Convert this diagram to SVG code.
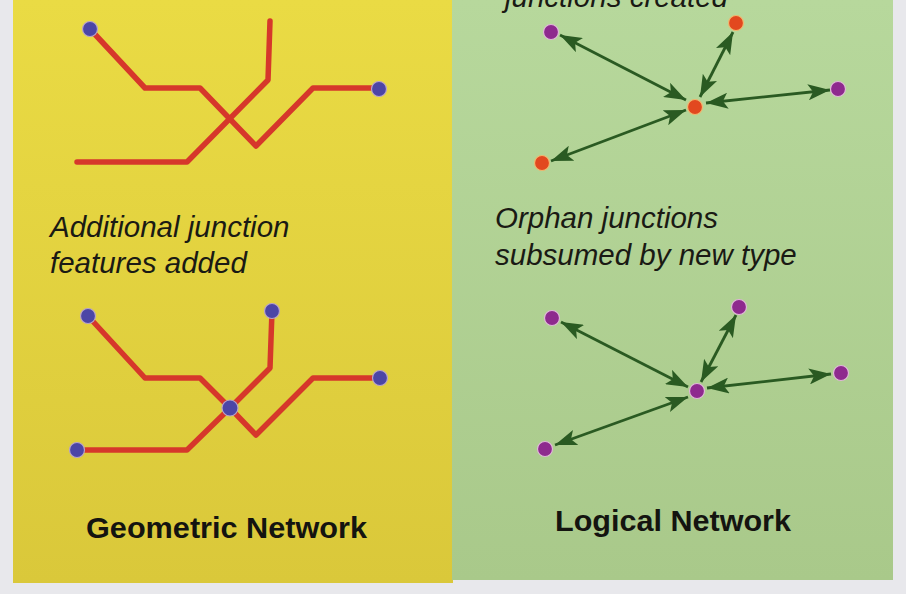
<svg xmlns="http://www.w3.org/2000/svg" width="906" height="594" viewBox="0 0 906 594">
<style>
.line{fill:none;stroke:#d6372b;stroke-width:5.5;stroke-linecap:round;stroke-linejoin:round}
.bj{fill:#4c46a6;stroke:#b9a4c8;stroke-width:1.2}
.pj{fill:#8e2a8e;stroke:#e0b8d8;stroke-width:1.2}
.oj{fill:#e2481f;stroke:#f0b870;stroke-width:1.2}
.arr{fill:none;stroke:#2a5a22;stroke-width:2.8;marker-start:url(#ah);marker-end:url(#ah)}
.cap{font-family:"Liberation Sans",Arial,sans-serif;font-style:italic;font-size:29.5px;fill:#1a1a14}
.title{font-family:"Liberation Sans",Arial,sans-serif;font-weight:bold;font-size:30px;fill:#141410}
</style>
<defs>
<linearGradient id="yel" x1="0" y1="0" x2="0" y2="1">
<stop offset="0" stop-color="#eadb44"/>
<stop offset="1" stop-color="#dac83a"/>
</linearGradient>
<linearGradient id="grn" x1="0" y1="0" x2="0" y2="1">
<stop offset="0" stop-color="#b7d89c"/>
<stop offset="1" stop-color="#a9c98a"/>
</linearGradient>
<marker id="ah" viewBox="0 0 22 16" refX="22" refY="8" markerWidth="22" markerHeight="16" markerUnits="userSpaceOnUse" orient="auto-start-reverse">
<path d="M0,0 L22,8 L0,16 L5,8 Z" fill="#2a5a22"/>
</marker>
</defs>
<rect x="0" y="0" width="906" height="594" fill="#e8e8ec"/>
<rect x="13" y="0" width="440" height="583" fill="url(#yel)"/>
<rect x="452" y="0" width="441" height="580" fill="url(#grn)"/>

<g id="texts">
<text class="cap" x="505" y="7">junctions created</text>
<text class="cap" x="50" y="237">Additional junction</text>
<text class="cap" x="50" y="273">features added</text>
<text class="cap" x="495" y="228">Orphan junctions</text>
<text class="cap" x="495" y="265">subsumed by new type</text>
<text class="title" x="86" y="538" textLength="281" lengthAdjust="spacingAndGlyphs">Geometric Network</text>
<text class="title" x="555" y="531" textLength="236" lengthAdjust="spacingAndGlyphs">Logical Network</text>
</g>

<g id="connectors">
<polyline class="line" points="90,29 145,88 200,88 256,146 313,88 379,88"/>
<polyline class="line" points="77,162 187,162 268,80 270,21"/>
<polyline class="line" points="88,316 145,378 200,378 230,408 256,435 313,378 380,378"/>
<polyline class="line" points="77,450 187,450 230,408 270,368 272,311"/>
<line class="arr" x1="560" y1="35" x2="686" y2="100"/>
<line class="arr" x1="733" y1="32" x2="700" y2="97"/>
<line class="arr" x1="830" y1="90" x2="706" y2="103"/>
<line class="arr" x1="551" y1="161" x2="686" y2="110"/>
<line class="arr" x1="561" y1="322" x2="688" y2="387"/>
<line class="arr" x1="736" y1="315" x2="701" y2="382"/>
<line class="arr" x1="831" y1="374" x2="707" y2="388"/>
<line class="arr" x1="555" y1="445" x2="688" y2="397"/>
</g>

<g id="geo-top-a"><circle class="bj" cx="90" cy="29" r="7.5"/></g>
<g id="geo-top-b"><circle class="bj" cx="379" cy="89" r="7.5"/></g>
<g id="geo-bot-a"><circle class="bj" cx="88" cy="316" r="7.5"/></g>
<g id="geo-bot-b"><circle class="bj" cx="272" cy="311" r="7.5"/></g>
<g id="geo-bot-c"><circle class="bj" cx="380" cy="378" r="7.5"/></g>
<g id="geo-bot-d"><circle class="bj" cx="77" cy="450" r="7.5"/></g>
<g id="geo-bot-center"><circle class="bj" cx="230" cy="408" r="8"/></g>

<g id="log-top-center"><circle class="oj" cx="695" cy="107" r="7.5"/></g>
<g id="log-top-a"><circle class="pj" cx="551" cy="32" r="7.5"/></g>
<g id="log-top-b"><circle class="oj" cx="736" cy="23" r="7.5"/></g>
<g id="log-top-c"><circle class="pj" cx="838" cy="89" r="7.5"/></g>
<g id="log-top-d"><circle class="oj" cx="542" cy="163" r="7.5"/></g>

<g id="log-bot-center"><circle class="pj" cx="697" cy="391" r="7.5"/></g>
<g id="log-bot-a"><circle class="pj" cx="552" cy="318" r="7.5"/></g>
<g id="log-bot-b"><circle class="pj" cx="739" cy="307" r="7.5"/></g>
<g id="log-bot-c"><circle class="pj" cx="841" cy="373" r="7.5"/></g>
<g id="log-bot-d"><circle class="pj" cx="545" cy="449" r="7.5"/></g>
</svg>
